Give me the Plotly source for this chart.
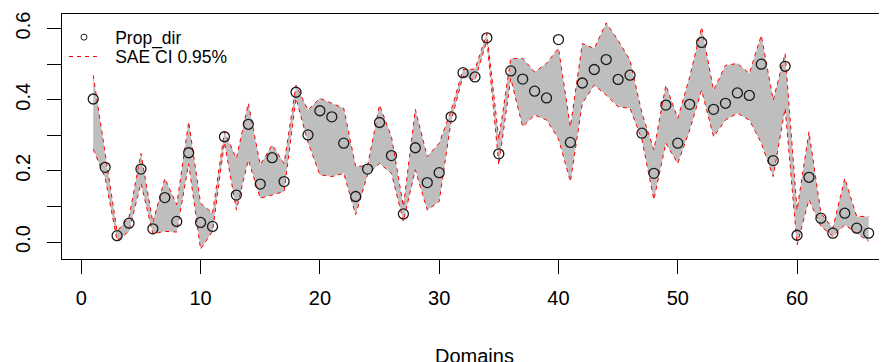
import plotly.graph_objects as go

domains = list(range(1, 67))
prop_dir = [0.402, 0.210, 0.018, 0.053, 0.205, 0.037, 0.125, 0.058, 0.251, 0.055,
            0.044, 0.296, 0.132, 0.331, 0.163, 0.237, 0.170, 0.421, 0.301, 0.369,
            0.352, 0.278, 0.128, 0.205, 0.336, 0.243, 0.079, 0.265, 0.167, 0.195,
            0.352, 0.476, 0.464, 0.574, 0.248, 0.481, 0.458, 0.424, 0.405, 0.569,
            0.280, 0.447, 0.485, 0.513, 0.457, 0.469, 0.306, 0.193, 0.385, 0.278,
            0.387, 0.561, 0.373, 0.390, 0.419, 0.412, 0.500, 0.229, 0.494, 0.019,
            0.182, 0.067, 0.025, 0.081, 0.039, 0.025]
ci_low = [0.261, 0.180, 0.004, 0.030, 0.165, 0.023, 0.030, 0.028, 0.220, -0.020,
          0.030, 0.280, 0.090, 0.231, 0.123, 0.133, 0.142, 0.404, 0.280, 0.189,
          0.184, 0.193, 0.077, 0.190, 0.221, 0.193, 0.058, 0.203, 0.090, 0.114,
          0.340, 0.466, 0.455, 0.567, 0.217, 0.460, 0.324, 0.357, 0.343, 0.290,
          0.170, 0.390, 0.441, 0.413, 0.380, 0.376, 0.287, 0.119, 0.278, 0.221,
          0.315, 0.427, 0.296, 0.343, 0.362, 0.343, 0.278, 0.184, 0.376, -0.008,
          0.119, 0.044, 0.016, 0.048, 0.025, 0.002]
ci_up = [0.469, 0.255, 0.030, 0.070, 0.249, 0.055, 0.179, 0.105, 0.338, 0.109,
         0.081, 0.310, 0.235, 0.390, 0.217, 0.273, 0.221, 0.441, 0.371, 0.404,
         0.390, 0.376, 0.212, 0.215, 0.385, 0.296, 0.100, 0.373, 0.240, 0.278,
         0.370, 0.485, 0.486, 0.586, 0.290, 0.516, 0.516, 0.478, 0.502, 0.545,
         0.324, 0.558, 0.544, 0.616, 0.567, 0.511, 0.362, 0.259, 0.441, 0.348,
         0.464, 0.604, 0.427, 0.497, 0.502, 0.474, 0.581, 0.399, 0.530, 0.090,
         0.310, 0.081, 0.039, 0.179, 0.072, 0.072]

x_ticks = [0, 10, 20, 30, 40, 50, 60]
y_ticks = [0.0, 0.1, 0.2, 0.3, 0.4, 0.5, 0.6]
y_labels = ["0.0", "", "0.2", "", "0.4", "", "0.6"]

FONT = "Liberation Sans, Arial, sans-serif"
RED_DASH = "4px,4px"
PAD = "\u00a0\u00a0\u200a"

fig = go.Figure()
# shaded band
fig.add_trace(go.Scatter(x=domains, y=ci_low, mode="lines", line=dict(width=0),
                         showlegend=False, hoverinfo="skip"))
fig.add_trace(go.Scatter(x=domains, y=ci_up, mode="lines", line=dict(width=0),
                         fill="tonexty", fillcolor="#BEBEBE",
                         showlegend=False, hoverinfo="skip"))
# red dashed CI lines
fig.add_trace(go.Scatter(x=domains, y=ci_up, mode="lines", name=PAD + "SAE CI 0.95%",
                         line=dict(color="red", width=1, dash=RED_DASH),
                         showlegend=True, legend="legend2"))
fig.add_trace(go.Scatter(x=domains, y=ci_low, mode="lines",
                         line=dict(color="red", width=1, dash=RED_DASH),
                         showlegend=False))
# points
fig.add_trace(go.Scatter(x=domains, y=prop_dir, mode="markers", name="Prop_dir",
                         marker=dict(symbol="circle-open", size=10,
                                     line=dict(width=1.3, color="#1a1a1a"),
                                     color="#1a1a1a"),
                         showlegend=False))
# legend entry for points (smaller symbol, as in reference legend)
fig.add_trace(go.Scatter(x=[None], y=[None], mode="markers", name=PAD + "Prop_dir",
                         marker=dict(symbol="circle-open", size=6,
                                     line=dict(width=1, color="#1a1a1a"),
                                     color="#1a1a1a"),
                         showlegend=True, legend="legend"))

legend_common = dict(xanchor="left", yanchor="middle", bgcolor="rgba(0,0,0,0)",
                     borderwidth=0, itemwidth=30,
                     font=dict(size=17.5, family=FONT, color="black"))

# page body has an 8px default margin: figure is 8px smaller so it fits the window
fig.update_layout(
    template="none",
    width=879, height=354,
    margin=dict(l=54, r=0, t=5.7, b=102.7, pad=0),
    paper_bgcolor="white", plot_bgcolor="white",
    font=dict(family=FONT, color="black", size=20),
    showlegend=True,
    legend=dict(x=0.0024, y=0.905, **legend_common),
    legend2=dict(x=0.0024, y=0.826, **legend_common),
    xaxis=dict(range=[-1.618, 67.54], tickvals=x_ticks, ticktext=[str(v) for v in x_ticks],
               automargin=False,
               showgrid=False, zeroline=False, showline=True, mirror=True,
               linecolor="black", linewidth=1,
               ticks="outside", ticklen=14, tickwidth=1, tickcolor="black",
               ticklabelstandoff=7,
               tickfont=dict(size=20, family=FONT, color="black")),
    yaxis=dict(range=[-0.0477, 0.641], tickvals=y_ticks, ticktext=y_labels,
               automargin=False,
               showgrid=False, zeroline=False, showline=True, mirror=False,
               linecolor="black", linewidth=1,
               ticks="outside", ticklen=14, tickwidth=1, tickcolor="black",
               tickangle=-90, ticklabelstandoff=9,
               tickfont=dict(size=20, family=FONT, color="black")),
    annotations=[dict(text="Domains", xref="paper", yref="paper", x=0.5, y=-0.394,
                      xanchor="center", yanchor="middle", showarrow=False,
                      font=dict(size=20, family=FONT, color="black"))],
)

fig.write_html("out.html")
